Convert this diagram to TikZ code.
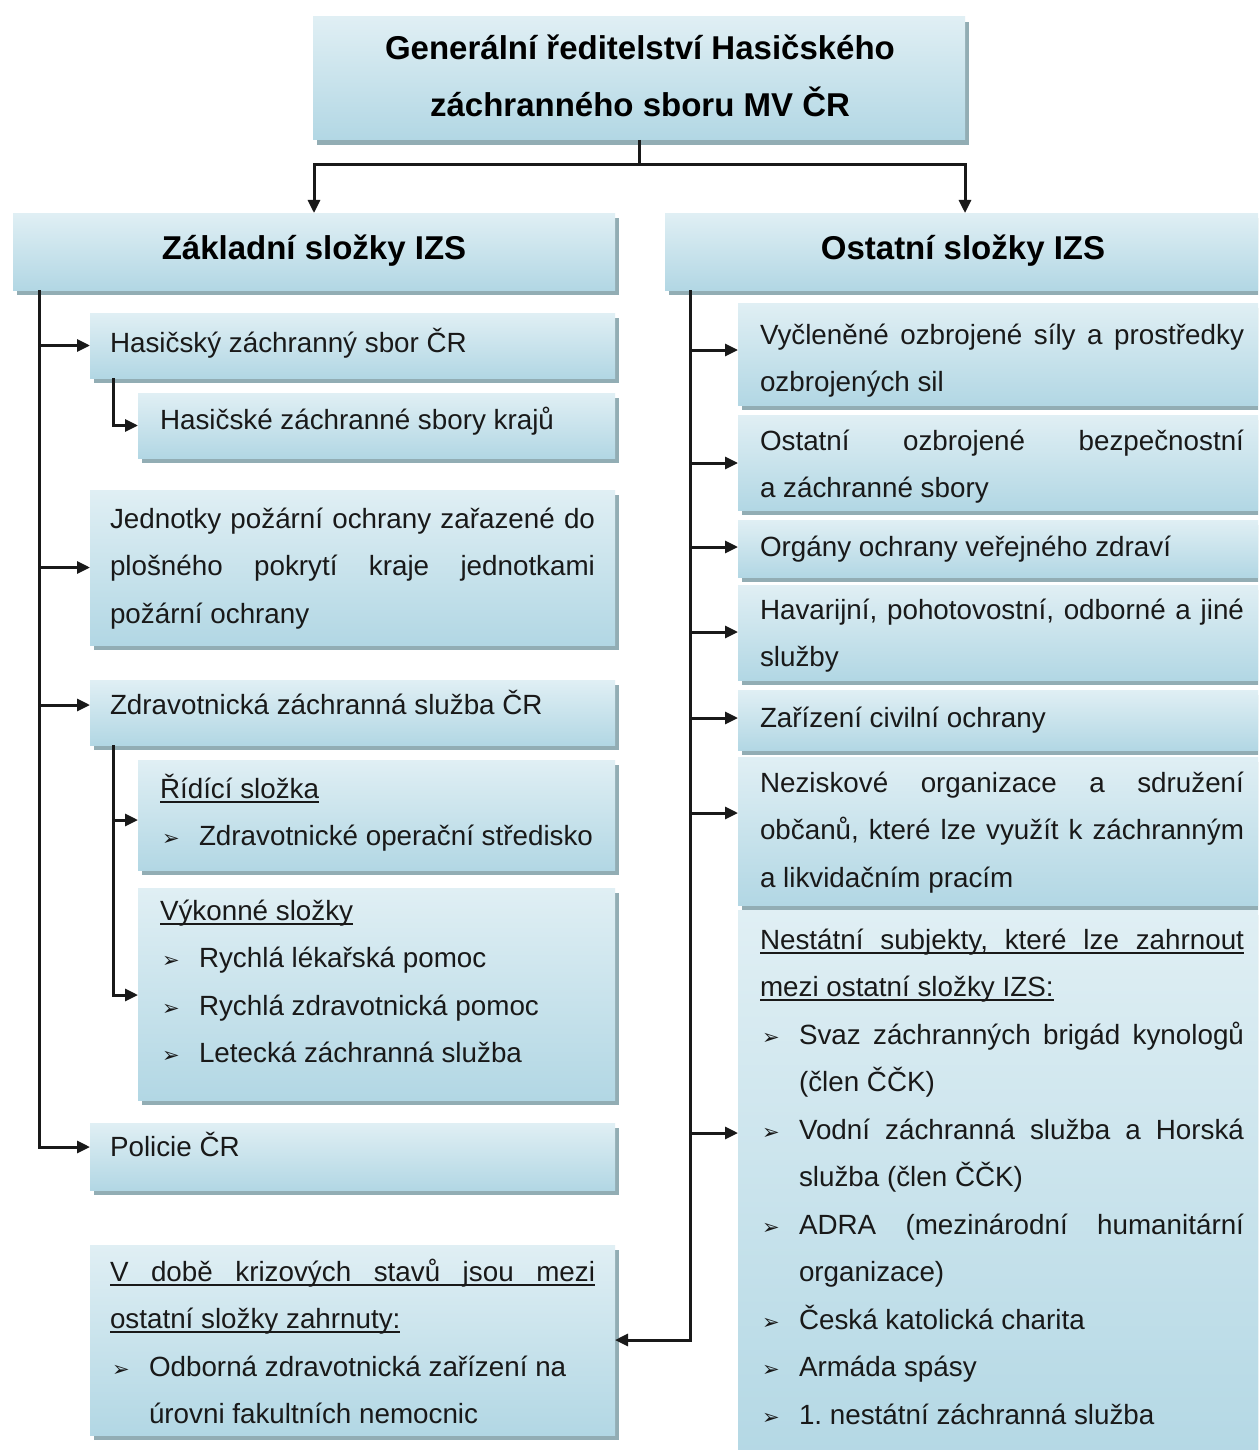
\documentclass[tikz,border=0pt]{standalone}
\usepackage{fontspec}
\setmainfont{Liberation Sans}
\newfontfamily\dejavu{DejaVu Sans}
\usetikzlibrary{arrows.meta,shadows}
\definecolor{boxtop}{RGB}{224,239,244}
\definecolor{boxbot}{RGB}{178,215,228}
\definecolor{shadowc}{RGB}{135,165,172}
\definecolor{ink}{RGB}{25,25,25}
\newsavebox\ulsave
\newcommand{\jl}[1]{\makebox[\hsize][s]{#1}}
\newcommand{\ulb}[1]{\leavevmode\sbox\ulsave{#1}\rlap{\rule[-4.5pt]{\wd\ulsave}{1.7pt}}\usebox\ulsave}
\newcommand{\bul}{\hspace*{2pt}\makebox[37pt][l]{\raisebox{0pt}{\dejavu\fontsize{21}{21}\selectfont ➢}}}
\newcommand{\ind}{\hspace*{39pt}}
\tikzset{
  box/.style={anchor=north west, inner sep=0pt, outer sep=0pt, draw=none,
    top color=boxtop, bottom color=boxbot,
    drop shadow={shadow xshift=4pt, shadow yshift=-5pt, fill=shadowc, opacity=0.9}},
  txt/.style={anchor=base west, inner sep=0pt, outer sep=0pt, text=ink, align=left,
    font=\fontsize{27.8}{47.5}\selectfont,
    execute at begin node={\spaceskip=0pt\xspaceskip=0pt\frenchspacing}},
  htxt/.style={anchor=base, inner sep=0pt, outer sep=0pt, text=black,
    font=\bfseries\fontsize{33}{57}\selectfont},
  conn/.style={draw=ink, line width=3pt},
  arr/.style={conn, -{Triangle[length=13pt,width=12pt]}},
}
\begin{document}
\begin{tikzpicture}[x=1pt,y=-1pt]
\useasboundingbox (0,0) rectangle (1258,1450);
\clip (0,0) rectangle (1258,1450);
\fill[white] (0,0) rectangle (1258,1450);

% boxes
\node[box, minimum width=652pt, minimum height=123pt] (top) at (313,17) {};
\node[box, minimum width=602pt, minimum height=77pt] (lhdr) at (13,213) {};
\node[box, minimum width=600pt, minimum height=77pt] (rhdr) at (665,213) {};

\node[box, minimum width=525pt, minimum height=65pt] (hzs) at (90,313) {};
\node[box, minimum width=477pt, minimum height=65pt] (kraje) at (138,393) {};
\node[box, minimum width=525pt, minimum height=155pt] (jpo) at (90,490) {};
\node[box, minimum width=525pt, minimum height=65pt] (zzs) at (90,680) {};
\node[box, minimum width=477pt, minimum height=110pt] (ridici) at (138,760) {};
\node[box, minimum width=477pt, minimum height=212pt] (vykon) at (138,888) {};
\node[box, minimum width=525pt, minimum height=67pt] (pol) at (90,1123) {};
\node[box, minimum width=525pt, minimum height=190pt] (krize) at (90,1245) {};

\node[box, minimum width=530pt, minimum height=102pt] (r1) at (738,303) {};
\node[box, minimum width=530pt, minimum height=95pt] (r2) at (738,415) {};
\node[box, minimum width=530pt, minimum height=57pt] (r3) at (738,520) {};
\node[box, minimum width=530pt, minimum height=95pt] (r4) at (738,585) {};
\node[box, minimum width=530pt, minimum height=60pt] (r5) at (738,690) {};
\node[box, minimum width=530pt, minimum height=148pt] (r6) at (738,757) {};
\node[box, minimum width=530pt, minimum height=570pt] (r7) at (738,910) {};

% texts
\node[htxt] (toptxt1) at (640,60) {Generální ředitelství Hasičského};
\node[htxt] (toptxt2) at (640,117) {záchranného sboru MV ČR};
\node[htxt] (lhdrtxt) at (314,259) {Základní složky IZS};
\node[htxt] (rhdrtxt) at (963,259) {Ostatní složky IZS};

\node[txt] (hzst) at (110,352) {Hasičský záchranný sbor ČR};
\node[txt] (krajet) at (160,429) {Hasičské záchranné sbory krajů};
\node[txt, text width=485pt] (jpot) at (110,528) {\jl{Jednotky požární ochrany zařazené do}\\\jl{plošného pokrytí kraje jednotkami}\\požární ochrany};
\node[txt] (zzst) at (110,714) {Zdravotnická záchranná služba ČR};
\node[txt, text width=452pt] (ridicit) at (160,798) {\ulb{Řídící složka}\\\bul Zdravotnické operační středisko};
\node[txt, text width=452pt] (vykont) at (160,920) {\ulb{Výkonné složky}\\\bul Rychlá lékařská pomoc\\\bul Rychlá zdravotnická pomoc\\\bul Letecká záchranná služba};
\node[txt] (polt) at (110,1156) {Policie ČR};
\node[txt, text width=485pt] (krizet) at (110,1281) {\ulb{\jl{V době krizových stavů jsou mezi}}\\\ulb{ostatní složky zahrnuty:}\\\bul Odborná zdravotnická zařízení na\\\ind úrovni fakultních nemocnic};

\node[txt, text width=484pt] (r1t) at (760,344) {\jl{Vyčleněné ozbrojené síly a prostředky}\\ozbrojených sil};
\node[txt, text width=484pt] (r2t) at (760,450) {\jl{Ostatní ozbrojené bezpečnostní}\\a záchranné sbory};
\node[txt] (r3t) at (760,556) {Orgány ochrany veřejného zdraví};
\node[txt, text width=484pt] (r4t) at (760,619) {\jl{Havarijní, pohotovostní, odborné a jiné}\\služby};
\node[txt] (r5t) at (760,727) {Zařízení civilní ochrany};
\node[txt, text width=484pt] (r6t) at (760,792) {\jl{Neziskové organizace a sdružení}\\\jl{občanů, které lze využít k záchranným}\\a likvidačním pracím};
\node[txt, text width=484pt] (r7t) at (760,949) {\ulb{\jl{Nestátní subjekty, které lze zahrnout}}\\\ulb{mezi ostatní složky IZS:}\\\jl{\bul Svaz záchranných brigád kynologů}\\\ind(člen ČČK)\\\jl{\bul Vodní záchranná služba a Horská}\\\ind služba (člen ČČK)\\\jl{\bul ADRA (mezinárodní humanitární}\\\ind organizace)\\\bul Česká katolická charita\\\bul Armáda spásy\\\bul 1. nestátní záchranná služba};

% connectors
\coordinate (split) at (639,165);
\draw[conn] (top.south) -- (split);
\draw[arr] (split) -| (lhdr.north);
\draw[arr] (split) -| (rhdr.north);

\coordinate (ltr) at (39,290);
\draw[arr] (ltr) |- (hzs.west);
\draw[arr] (ltr) |- (jpo.west);
\draw[arr] (ltr) |- (zzs.west |- 0,705);
\draw[arr] (ltr) |- (pol.west |- 0,1147);

\coordinate (hzsub) at (113,378);
\draw[arr] (hzsub) |- (kraje.west);
\coordinate (zzsub) at (113,745);
\draw[arr] (zzsub) |- (ridici.west |- 0,820);
\draw[arr] (zzsub) |- (vykon.west |- 0,995);

\coordinate (rtr) at (690,290);
\draw[arr] (rtr) |- (r1.west |- 0,350);
\draw[arr] (rtr) |- (r2.west |- 0,463);
\draw[arr] (rtr) |- (r3.west |- 0,547);
\draw[arr] (rtr) |- (r4.west |- 0,632);
\draw[arr] (rtr) |- (r5.west |- 0,718);
\draw[arr] (rtr) |- (r6.west |- 0,813);
\draw[arr] (rtr) |- (r7.west |- 0,1133);
\draw[arr] (rtr) |- (krize.east |- 0,1340);
\end{tikzpicture}
\end{document}
